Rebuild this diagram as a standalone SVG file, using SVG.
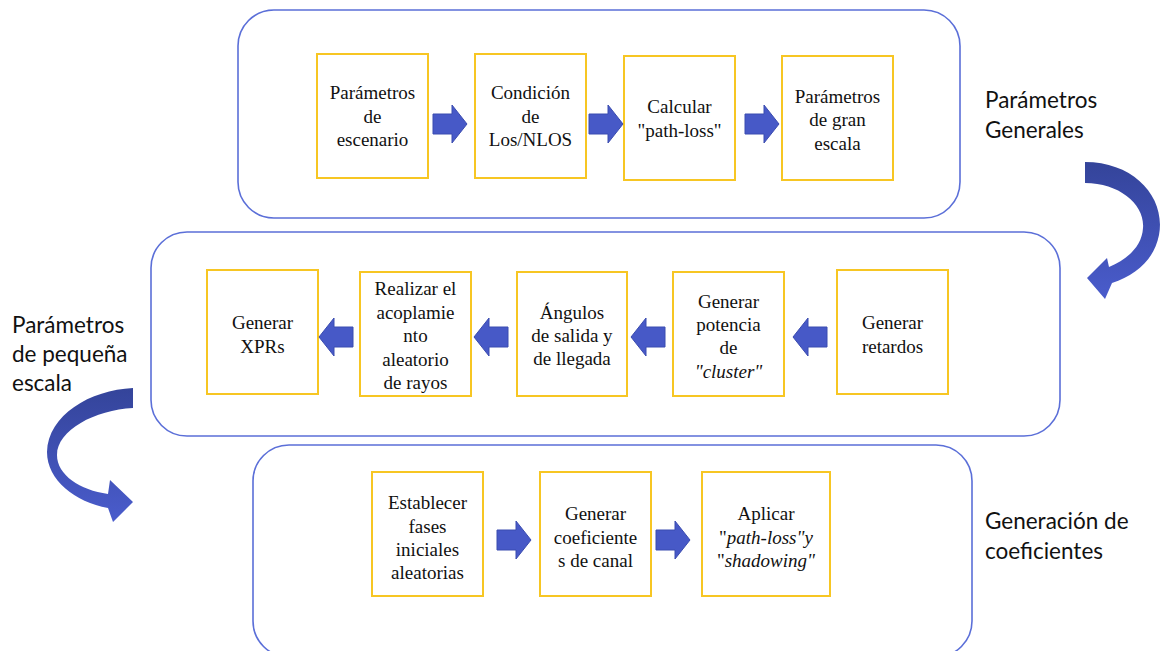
<svg xmlns="http://www.w3.org/2000/svg" width="1162" height="651" viewBox="0 0 1162 651">
<style>
.cont{fill:#fff;stroke:#5b6fd8;stroke-width:1.6}
.box{fill:#fff;stroke:#f7c623;stroke-width:2}
.t{font-family:"Liberation Serif",serif;font-size:19px;fill:#111;text-anchor:middle}
.lab{font-family:Lato,"Open Sans",sans-serif;font-size:22.5px;fill:#111}
.arr{fill:#4759c7;stroke:#3b4cb0;stroke-width:1}
.i{font-style:italic}
</style>
<defs>
<path id="ar" d="M0,-10 h19 v-9 l15,19 l-15,19 v-9 h-19 z"/>
<linearGradient id="g1" x1="0" y1="0" x2="0" y2="1">
<stop offset="0" stop-color="#34449a"/><stop offset="1" stop-color="#4a5ccc"/>
</linearGradient>
</defs>
<rect width="1162" height="651" fill="#fff"/>

<g id="containers">
<rect id="c1" class="cont" x="238" y="10" width="722" height="208" rx="36"/>
<rect id="c2" class="cont" x="151" y="232" width="909" height="204" rx="36"/>
<rect id="c3" class="cont" x="253" y="445" width="719" height="212" rx="36"/>
</g>

<g id="labels">
<text class="lab" x="985" y="108">Parámetros</text>
<text class="lab" x="985" y="138">Generales</text>
<text class="lab" x="12" y="333">Parámetros</text>
<text class="lab" x="12" y="362">de pequeña</text>
<text class="lab" x="12" y="391">escala</text>
<text class="lab" x="985" y="529">Generación de</text>
<text class="lab" x="985" y="559">coeficientes</text>
</g>

<g id="n1"><rect class="box" x="317" y="54" width="111" height="124"/>
<text class="t" x="372.5" y="99">Parámetros</text><text class="t" x="372.5" y="123">de</text><text class="t" x="372.5" y="146">escenario</text></g>
<g id="n2"><rect class="box" x="475" y="54" width="111" height="124"/>
<text class="t" x="530.5" y="99">Condición</text><text class="t" x="530.5" y="123">de</text><text class="t" x="530.5" y="146">Los/NLOS</text></g>
<g id="n3"><rect class="box" x="624" y="56" width="111" height="124"/>
<text class="t" x="679.5" y="113">Calcular</text><text class="t" x="679.5" y="137">"path-loss"</text></g>
<g id="n4"><rect class="box" x="782" y="56" width="111" height="124"/>
<text class="t" x="837.5" y="103">Parámetros</text><text class="t" x="837.5" y="126">de gran</text><text class="t" x="837.5" y="150">escala</text></g>

<g id="n5"><rect class="box" x="207" y="270" width="111" height="124"/>
<text class="t" x="262.5" y="329">Generar</text><text class="t" x="262.5" y="353">XPRs</text></g>
<g id="n6"><rect class="box" x="360" y="272" width="111" height="124"/>
<text class="t" x="415.5" y="295">Realizar el</text><text class="t" x="415.5" y="319">acoplamie</text><text class="t" x="415.5" y="342">nto</text><text class="t" x="415.5" y="366">aleatorio</text><text class="t" x="415.5" y="389">de rayos</text></g>
<g id="n7"><rect class="box" x="517" y="272" width="110" height="124"/>
<text class="t" x="572" y="319">Ángulos</text><text class="t" x="572" y="342">de salida y</text><text class="t" x="572" y="365">de llegada</text></g>
<g id="n8"><rect class="box" x="673" y="272" width="111" height="124"/>
<text class="t" x="728.5" y="308">Generar</text><text class="t" x="728.5" y="331">potencia</text><text class="t" x="728.5" y="354">de</text><text class="t i" x="728.5" y="378">"cluster"</text></g>
<g id="n9"><rect class="box" x="837" y="270" width="111" height="124"/>
<text class="t" x="892.5" y="329">Generar</text><text class="t" x="892.5" y="353">retardos</text></g>

<g id="n10"><rect class="box" x="372" y="472" width="111" height="124"/>
<text class="t" x="427.5" y="509">Establecer</text><text class="t" x="427.5" y="533">fases</text><text class="t" x="427.5" y="556">iniciales</text><text class="t" x="427.5" y="579">aleatorias</text></g>
<g id="n11"><rect class="box" x="540" y="472" width="111" height="124"/>
<text class="t" x="595.5" y="520">Generar</text><text class="t" x="595.5" y="544">coeficiente</text><text class="t" x="595.5" y="567">s de canal</text></g>
<g id="n12"><rect class="box" x="702" y="472" width="128" height="124"/>
<text class="t" x="766" y="520">Aplicar</text><text class="t" x="766" y="544">"<tspan class="i">path-loss"y</tspan></text><text class="t" x="766" y="567">"<tspan class="i">shadowing"</tspan></text></g>

<g id="connectors">
<use href="#ar" class="arr" transform="translate(433,124)"/>
<use href="#ar" class="arr" transform="translate(589,124)"/>
<use href="#ar" class="arr" transform="translate(745,124)"/>
<use href="#ar" class="arr" transform="translate(353,337) scale(-1,1)"/>
<use href="#ar" class="arr" transform="translate(508,337) scale(-1,1)"/>
<use href="#ar" class="arr" transform="translate(665,337) scale(-1,1)"/>
<use href="#ar" class="arr" transform="translate(827,337) scale(-1,1)"/>
<use href="#ar" class="arr" transform="translate(497,540)"/>
<use href="#ar" class="arr" transform="translate(656,540)"/>
<path id="curveR" fill="url(#g1)" d="M1085,162 C1135,162 1166,198 1159,235 C1154,260 1136,275 1112,283 L1105,299 L1087,278 L1107,258 L1109,267 C1128,259 1142,246 1143,228 C1145,205 1120,183 1085,183 Z"/>
<path id="curveL" fill="url(#g1)" d="M133,388 C90,390 48,415 47,452 C47,480 75,502 108,508 L113,522 L133,502 L110,480 L108,494 C80,490 57,475 57,455 C57,430 95,410 133,408 Z"/>
</g>
</svg>
